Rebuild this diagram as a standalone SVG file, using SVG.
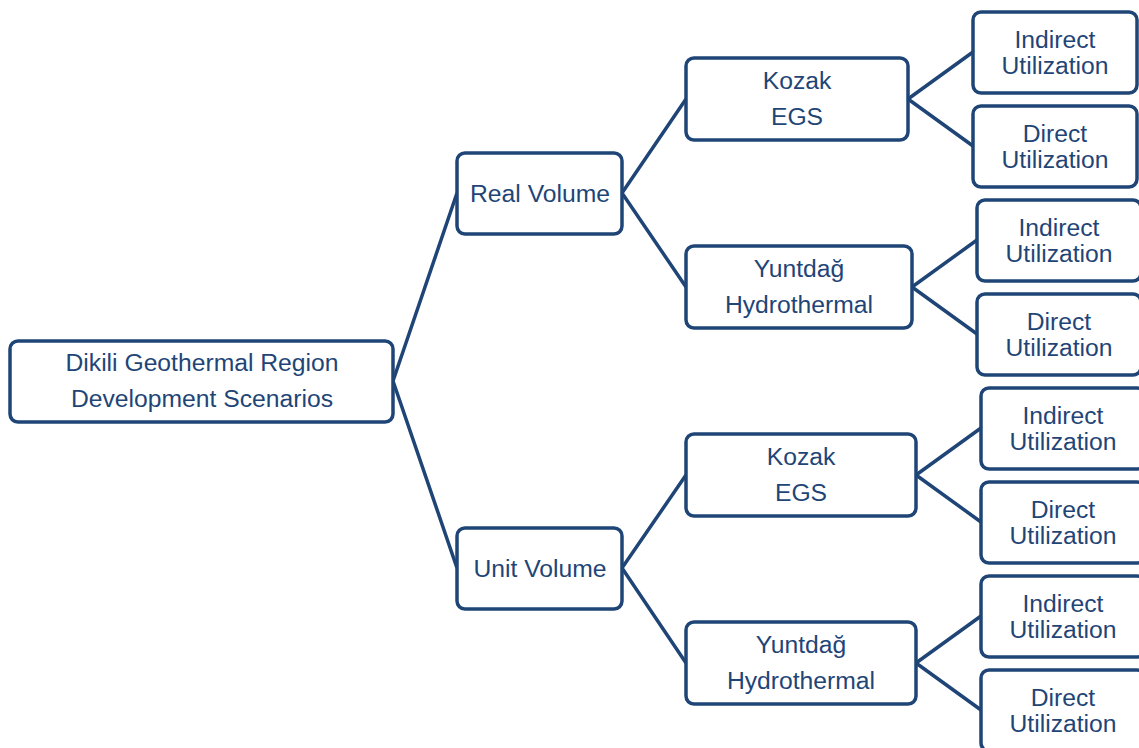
<svg xmlns="http://www.w3.org/2000/svg" width="1139" height="748" viewBox="0 0 1139 748">
<style>
.box{fill:#fff;stroke:#1f4577;stroke-width:3.5}
.t{font-family:"Liberation Sans",Arial,sans-serif;font-size:24.7px;fill:#1f4577;text-anchor:middle}
.c{stroke:#1f4577;stroke-width:3.5;fill:none}
</style>
<rect width="1139" height="748" fill="#fff"/>
<g id="connectors">
<path class="c" d="M393,381 L457,193 M393,381 L457,568"/>
<path class="c" d="M622,193 L686,99 M622,193 L686,287"/>
<path class="c" d="M622,568 L686,475 M622,568 L686,663"/>
<path class="c" d="M908,99 L973,52 M908,99 L973,146"/>
<path class="c" d="M912,287 L977,240 M912,287 L977,334"/>
<path class="c" d="M916,475 L981,428 M916,475 L981,522"/>
<path class="c" d="M916,663 L981,616 M916,663 L981,710"/>
</g>
<g id="root"><rect class="box" x="10" y="341" width="383" height="81" rx="8"/><text class="t" x="202" y="371">Dikili Geothermal Region</text><text class="t" x="202" y="407">Development Scenarios</text></g>
<g id="real"><rect class="box" x="457" y="153" width="165" height="81" rx="8"/><text class="t" x="540" y="202">Real Volume</text></g>
<g id="unit"><rect class="box" x="457" y="528" width="165" height="81" rx="8"/><text class="t" x="540" y="577">Unit Volume</text></g>
<g id="kozak1"><rect class="box" x="686" y="58" width="222" height="82" rx="8"/><text class="t" x="797" y="89">Kozak</text><text class="t" x="797" y="125">EGS</text></g>
<g id="yunt1"><rect class="box" x="686" y="246" width="226" height="82" rx="8"/><text class="t" x="799" y="277">Yuntdağ</text><text class="t" x="799" y="313">Hydrothermal</text></g>
<g id="kozak2"><rect class="box" x="686" y="434" width="230" height="82" rx="8"/><text class="t" x="801" y="465">Kozak</text><text class="t" x="801" y="501">EGS</text></g>
<g id="yunt2"><rect class="box" x="686" y="622" width="230" height="82" rx="8"/><text class="t" x="801" y="653">Yuntdağ</text><text class="t" x="801" y="689">Hydrothermal</text></g>
<g id="leaf1"><rect class="box" x="973" y="12" width="164" height="81" rx="8"/><text class="t" x="1055" y="48">Indirect</text><text class="t" x="1055" y="74">Utilization</text></g>
<g id="leaf2"><rect class="box" x="973" y="106" width="164" height="81" rx="8"/><text class="t" x="1055" y="142">Direct</text><text class="t" x="1055" y="168">Utilization</text></g>
<g id="leaf3"><rect class="box" x="977" y="200" width="164" height="81" rx="8"/><text class="t" x="1059" y="236">Indirect</text><text class="t" x="1059" y="262">Utilization</text></g>
<g id="leaf4"><rect class="box" x="977" y="294" width="164" height="81" rx="8"/><text class="t" x="1059" y="330">Direct</text><text class="t" x="1059" y="356">Utilization</text></g>
<g id="leaf5"><rect class="box" x="981" y="388" width="164" height="81" rx="8"/><text class="t" x="1063" y="424">Indirect</text><text class="t" x="1063" y="450">Utilization</text></g>
<g id="leaf6"><rect class="box" x="981" y="482" width="164" height="81" rx="8"/><text class="t" x="1063" y="518">Direct</text><text class="t" x="1063" y="544">Utilization</text></g>
<g id="leaf7"><rect class="box" x="981" y="576" width="164" height="81" rx="8"/><text class="t" x="1063" y="612">Indirect</text><text class="t" x="1063" y="638">Utilization</text></g>
<g id="leaf8"><rect class="box" x="981" y="670" width="164" height="81" rx="8"/><text class="t" x="1063" y="706">Direct</text><text class="t" x="1063" y="732">Utilization</text></g>
</svg>
